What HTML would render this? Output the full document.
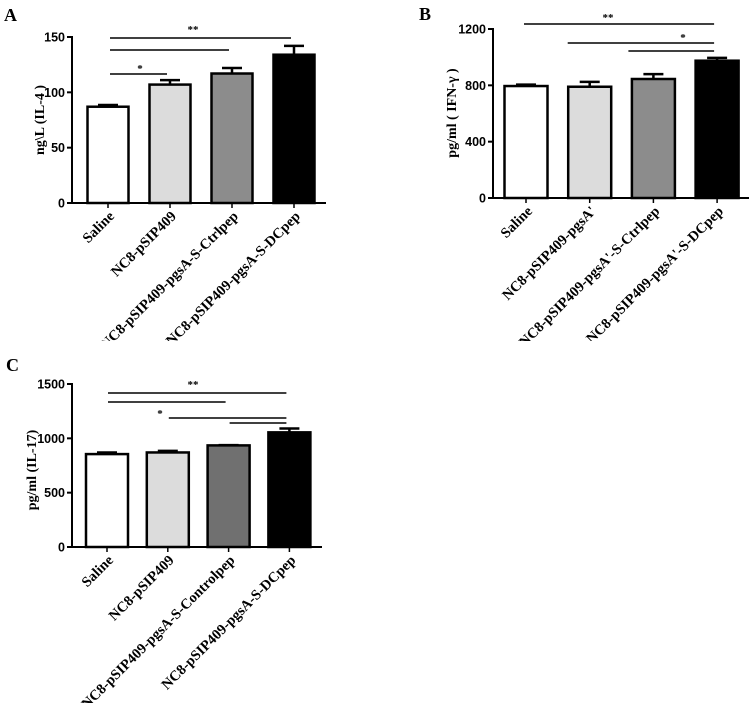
<!DOCTYPE html>
<html><head><meta charset="utf-8"><style>
html,body{margin:0;padding:0;background:#fff;overflow:hidden;}
svg{display:block;}
text{font-family:"Liberation Serif",serif;font-weight:bold;}
.num{font-family:"Liberation Sans",sans-serif;font-weight:bold;font-size:12.5px;}
</style></head><body>
<svg id="fig" width="750" height="703" viewBox="0 0 750 703" xmlns="http://www.w3.org/2000/svg">
<defs><clipPath id="topclip"><rect x="0" y="0" width="750" height="341"/></clipPath></defs>
</svg>
<script>
// Panel A data
const catsA = ["Saline","NC8-pSIP409","NC8-pSIP409-pgsA-S-Ctrlpep","NC8-pSIP409-pgsA-S-DCpep"];
const valsA = [87,107,117,134];
const errA = [88.5,111,122,142];
const ticksA = [0,50,100,150];
// Panel B data
const catsB = ["Saline","NC8-pSIP409-pgsA'","NC8-pSIP409-pgsA'-S-Ctrlpep","NC8-pSIP409-pgsA'-S-DCpep"];
const valsB = [795,790,845,975];
const errB = [805,825,880,995];
const ticksB = [0,400,800,1200];
// Panel C data
const catsC = ["Saline","NC8-pSIP409","NC8-pSIP409-pgsA-S-Controlpep","NC8-pSIP409-pgsA-S-DCpep"];
const valsC = [855,870,935,1055];
const errC = [870,885,938,1090];
const ticksC = [0,500,1000,1500];

const NS="http://www.w3.org/2000/svg";
const svg=document.getElementById('fig');
function mk(tag,attrs,parent,txt){const e=document.createElementNS(NS,tag);for(const k in attrs)e.setAttribute(k,attrs[k]);if(txt!==undefined)e.textContent=txt;(parent||svg).appendChild(e);return e;}

function panel(cfg){
  const g=mk('g',cfg.clip?{'clip-path':'url(#topclip)'}:{});
  
  
  const y=v=>cfg.y0-(v-cfg.vmin)/(cfg.vmax-cfg.vmin)*(cfg.y0-cfg.y1);
  const xc=i=>cfg.c0+i*cfg.step;
  const lab=mk('text',{x:cfg.lx,y:cfg.ly,'font-size':18},g,cfg.id);
  
  
  cfg.vals.forEach((v,i)=>{
    const bx=xc(i)-cfg.bw/2;
    const r=mk('rect',{x:bx,y:y(v),width:cfg.bw,height:cfg.y0-y(v),fill:cfg.colors[i],stroke:'#000','stroke-width':2.5},g);
    
    
    const e=mk('path',{d:`M${xc(i)} ${y(v)}V${y(cfg.err[i])}M${xc(i)-10} ${y(cfg.err[i])}H${xc(i)+10}`,stroke:'#000','stroke-width':2.5,fill:'none'},g);
    
    
    mk('path',{d:`M${xc(i)} ${cfg.y0}v5`,stroke:'#000','stroke-width':1.5},g);
    const tl=mk('text',{x:0,y:0,'font-size':14.5,'text-anchor':'end',transform:`translate(${xc(i)+7},${cfg.y0+14}) rotate(-45)`},g,cfg.cats[i]);
    
    
  });
  const ax=mk('path',{d:`M${cfg.ax} ${cfg.y1-1}V${cfg.y0}H${cfg.axEnd}`,stroke:'#000','stroke-width':2,fill:'none'},g);
  
  
  cfg.ticks.forEach(t=>{
    mk('path',{d:`M${cfg.ax-5} ${y(t)}H${cfg.ax}`,stroke:'#000','stroke-width':2},g);
    const tt=mk('text',{x:cfg.ax-7,y:y(t)+4.5,'text-anchor':'end',class:'num'},g,t);
    
    
  });
  const yt=mk('text',{x:0,y:0,'font-size':14,'text-anchor':'middle',transform:`translate(${cfg.tx},${cfg.ty}) rotate(-90)`},g,cfg.title);
  
  
  cfg.sig.forEach(s=>{
    const l=mk('path',{d:`M${xc(s[0])+s[3]} ${s[2]}H${xc(s[1])-3}`,stroke:'#000','stroke-width':1.5},g);
    
    
  });
  cfg.stars.forEach(s=>{
    const st=mk('text',{x:s[0],y:s[1],'font-size':11,'text-anchor':'middle','font-family':'Liberation Sans'},g,s[2]);
    
    
  });
}

panel({id:'A',clip:true,lx:4,ly:21,cats:catsA,vals:valsA,err:errA,ticks:ticksA,vmin:0,vmax:150,y0:203,y1:37,
  ax:72,axEnd:326,c0:108,step:62,bw:41,colors:['#fff','#dcdcdc','#8c8c8c','#000'],
  title:'ng\\L (IL-4 )',tx:44,ty:120,
  sig:[[0,1,74,2],[0,2,50,2],[0,3,38,2]],stars:[[140,72,'*'],[193,33,'**']]});
panel({id:'B',clip:true,lx:419,ly:20,cats:catsB,vals:valsB,err:errB,ticks:ticksB,vmin:0,vmax:1200,y0:198,y1:29,
  ax:493,axEnd:749,c0:526,step:63.7,bw:43,colors:['#fff','#dcdcdc','#8c8c8c','#000'],
  title:'pg/ml ( IFN-γ )',tx:456,ty:113,
  sig:[[0,3,24,-2],[1,3,43,-22],[2,3,51,-25]],stars:[[608,21,'**'],[683,41,'*']]});
panel({id:'C',lx:6,ly:371,cats:catsC,vals:valsC,err:errC,ticks:ticksC,vmin:0,vmax:1500,y0:547,y1:384,
  ax:72,axEnd:322,c0:107,step:60.8,bw:42,colors:['#fff','#dcdcdc','#707070','#000'],
  title:'pg/ml  (IL-17)',tx:36,ty:470,
  sig:[[0,3,393,1],[0,2,402,1],[1,3,418,1],[2,3,423,1]],stars:[[193,388,'**'],[160,417,'*']]});
</script>
</body></html>
